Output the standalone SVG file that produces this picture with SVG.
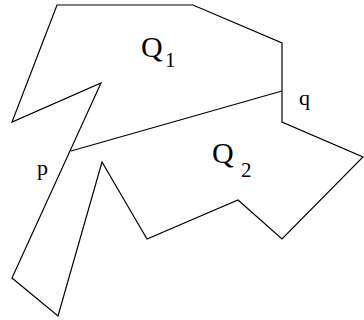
<svg xmlns="http://www.w3.org/2000/svg" width="364" height="320" viewBox="0 0 364 320">
<style>
.edge{fill:none;stroke:#000;stroke-width:1.2;stroke-linejoin:miter}
.lbl{font-family:"Liberation Serif","Times New Roman",serif;fill:#000}
</style>
<rect width="364" height="320" fill="#fff"/>
<g id="polygon">
<polygon class="edge" points="57,5 193,5 282,43 282,122 363,157 282,239 238,200 147,239 102,162 58,316 12,278 101,83 12,122"/>
</g>
<g id="connectors">
<line class="edge" x1="71" y1="151" x2="282" y2="91"/>
</g>
<g id="Q1">
<text class="lbl" x="141" y="57" font-size="30">Q</text>
<text class="lbl" x="165" y="67" font-size="21">1</text>
</g>
<g id="Q2">
<text class="lbl" x="212" y="163" font-size="30">Q</text>
<text class="lbl" x="241" y="177" font-size="21">2</text>
</g>
<g id="q">
<text class="lbl" x="299" y="105" font-size="22">q</text>
</g>
<g id="p">
<text class="lbl" x="37" y="175" font-size="22">p</text>
</g>
</svg>
